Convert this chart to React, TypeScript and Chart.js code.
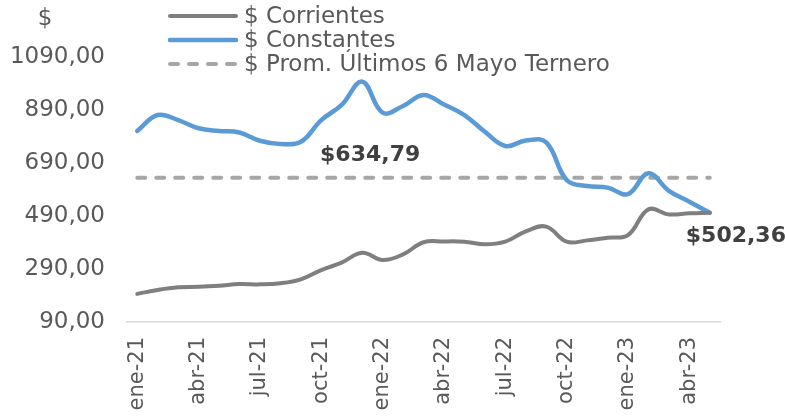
import React, { useEffect, useRef } from 'react';
import { Chart, registerables } from 'chart.js';

Chart.register(...registerables);

const months = [
  'ene-21', 'feb-21', 'mar-21', 'abr-21', 'may-21', 'jun-21', 'jul-21', 'ago-21', 'sep-21', 'oct-21', 'nov-21', 'dic-21',
  'ene-22', 'feb-22', 'mar-22', 'abr-22', 'may-22', 'jun-22', 'jul-22', 'ago-22', 'sep-22', 'oct-22', 'nov-22', 'dic-22',
  'ene-23', 'feb-23', 'mar-23', 'abr-23', 'may-23',
];

const corrientes = [
  196, 211, 221, 223, 227, 233, 232, 236, 251, 286, 314, 351,
  324, 345, 391, 394, 393, 383, 393, 432, 450, 393, 398, 408,
  418, 515, 496, 500, 502.36,
];

const constantes = [
  811, 871, 852, 821, 811, 805, 774, 762, 770, 852, 909, 997,
  880, 905, 947, 911, 871, 808, 754, 775, 768, 626, 603, 597,
  573, 651, 585, 544, 502.36,
];

const PROM = 634.79;
const promedio = months.map(() => PROM);

const yTicks = [90, 290, 490, 690, 890, 1090];

const seriesNames = ['$ Corrientes', '$ Constantes', '$ Prom. Últimos 6 Mayo Ternero'];

const FONT = '"DejaVu Sans", sans-serif';
const TEXT = '#595959';

const fmtNum = (v: number) => v.toFixed(2).replace('.', ',');

const overlay = {
  id: 'overlay',
  afterDraw(chart: any) {
    const { ctx } = chart;
    const x = chart.scales.x;
    const y = chart.scales.y;
    ctx.save();
    // axis title
    ctx.font = `23px ${FONT}`;
    ctx.fillStyle = TEXT;
    ctx.textAlign = 'center';
    ctx.textBaseline = 'middle';
    ctx.fillText('$', 45, 19);

    // legend
    ctx.font = `23px ${FONT}`;
    ctx.textAlign = 'left';
    chart.data.datasets.forEach((ds: any, i: number) => {
      const yy = 16 + i * 24;
      ctx.strokeStyle = ds.borderColor;
      ctx.lineWidth = ds.borderWidth;
      ctx.lineCap = 'round';
      ctx.setLineDash(ds.borderDash || []);
      ctx.beginPath();
      ctx.moveTo(170, yy);
      ctx.lineTo(236, yy);
      ctx.stroke();
      ctx.fillStyle = TEXT;
      ctx.fillText(ds.label, 244, yy + 1);
    });
    ctx.setLineDash([]);

    // data labels
    ctx.font = `bold 22px ${FONT}`;
    ctx.fillStyle = '#404040';
    ctx.textAlign = 'center';
    const px = x.getPixelForValue(11);
    const py = y.getPixelForValue(PROM);
    ctx.fillText('$' + fmtNum(PROM), px + 8, py - 22);

    const last = constantes.length - 1;
    const lx = x.getPixelForValue(last);
    const ly = y.getPixelForValue(constantes[last]);
    ctx.textAlign = 'left';
    ctx.fillText('$' + fmtNum(constantes[last]), lx - 24, ly + 24);
    ctx.restore();
  },
};

export default function App() {
  const ref = useRef<HTMLCanvasElement>(null);

  useEffect(() => {
    if (!ref.current) return;
    Chart.defaults.font.family = FONT;
    const chart = new Chart(ref.current, {
      type: 'line',
      data: {
        labels: months,
        datasets: [
          {
            label: seriesNames[0],
            data: corrientes,
            borderColor: '#7F7F7F',
            borderWidth: 4,
            pointRadius: 0,
            tension: 0.4,
            borderCapStyle: 'round',
            fill: false,
          },
          {
            label: seriesNames[1],
            data: constantes,
            borderColor: '#5B9BD5',
            borderWidth: 4.5,
            pointRadius: 0,
            tension: 0.4,
            borderCapStyle: 'round',
            fill: false,
          },
          {
            label: seriesNames[2],
            data: promedio,
            borderColor: '#A6A6A6',
            borderWidth: 4,
            borderDash: [8, 11],
            borderCapStyle: 'round',
            pointRadius: 0,
            tension: 0,
            fill: false,
          },
        ],
      },
      options: {
        animation: false,
        responsive: false,
        maintainAspectRatio: false,
        layout: { padding: { top: 57, right: 65, left: 0, bottom: 0 } },
        plugins: {
          legend: { display: false },
          tooltip: { enabled: false },
          title: { display: false },
        },
        scales: {
          x: {
            type: 'category',
            offset: true,
            grid: { display: false, drawTicks: false },
            border: { display: true, color: '#D9D9D9', width: 1.5 },
            ticks: {
              autoSkip: false,
              minRotation: 90,
              maxRotation: 90,
              padding: 15,
              color: TEXT,
              font: { size: 21, family: FONT },
              callback: (_v: any, idx: number) => (idx % 3 === 0 ? months[idx] : null),
            },
            afterFit: (s: any) => {
              s.height = 97;
            },
          },
          y: {
            min: 90,
            max: 1090,
            grid: { display: false, drawTicks: false },
            border: { display: false },
            afterBuildTicks: (s: any) => {
              s.ticks = yTicks.map((v) => ({ value: v }));
            },
            ticks: {
              padding: 22,
              color: TEXT,
              font: { size: 23, family: FONT },
              callback: (v: any) => fmtNum(Number(v)),
            },
            afterFit: (s: any) => {
              s.width = 127;
            },
          },
        },
      },
      plugins: [overlay],
    } as any);
    return () => chart.destroy();
  }, []);

  return (
    <div style={{ position: 'fixed', left: 0, top: 0, width: 785, height: 419, background: '#fff' }}>
      <canvas ref={ref} width={785} height={419} style={{ width: 785, height: 419, display: 'block' }} />
    </div>
  );
}
